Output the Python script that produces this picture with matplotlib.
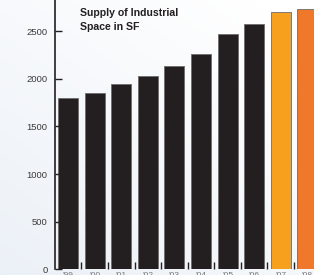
import matplotlib
matplotlib.use("Agg")
import matplotlib.pyplot as plt
import numpy as np

# data (sq ft, thousands)
years = ["'99", "'00", "'01", "'02", "'03", "'04", "'05", "'06", "'07", "'08"]
supply = [1800, 1850, 1940, 2030, 2135, 2260, 2470, 2575, 2700, 2730]
bar_colors = ["#231f20"] * 8 + ["#f6a01e", "#f0782a"]
yticks = [0, 500, 1000, 1500, 2000, 2500]

plt.rcParams['font.family'] = ['Liberation Sans', 'DejaVu Sans']

fig = plt.figure(figsize=(3.14, 2.75), dpi=100)

# soft gradient background
bg = fig.add_axes([0, 0, 1, 1], zorder=0)
gx, gy = np.meshgrid(np.linspace(0, 1, 200), np.linspace(0, 1, 200))
g = np.clip(0.6 * gy + 0.5 * gx, 0, 1)
c0 = np.array([0.925, 0.945, 0.97])
c1 = np.array([1.0, 1.0, 1.0])
img = c0[None, None, :] * (1 - g[..., None]) + c1[None, None, :] * g[..., None]
bg.imshow(img, origin='lower', aspect='auto', extent=[0, 1, 0, 1])
bg.axis('off')

ax = fig.add_axes([54.5 / 314, 5.7 / 275, 1 - 54.5 / 314, 269.3 / 275], zorder=1)
ax.patch.set_alpha(0)

x = np.arange(len(supply))
ax.bar(x, supply, width=0.75, color=bar_colors, edgecolor='#6f6b6b', linewidth=0.6)

ax.set_xlim(-0.51, 9.25)
ax.set_ylim(0, 2826)

for s in ['top', 'right', 'bottom']:
    ax.spines[s].set_visible(False)
ax.spines['left'].set_color('#231f20')
ax.spines['left'].set_linewidth(1.2)

ax.set_yticks(yticks)
ax.set_yticklabels([str(v) for v in yticks], fontsize=6.8, color='#3a3a3a')
ax.tick_params(axis='y', direction='in', length=5, width=1.0, color='#231f20', pad=5)
# small outward mark at zero
ax.set_yticks([0], minor=True)
ax.tick_params(axis='y', which='minor', direction='out', length=3, width=0.8, color='#3a3a3a')

# year labels sit mostly below the bottom edge, as in the source
ax.set_xticks(x)
ax.set_xticklabels(years, fontsize=6, color='#777777')
ax.set_xticks(x[:-1] + 0.5, minor=True)
ax.tick_params(axis='x', which='major', length=0, pad=2)
ax.tick_params(axis='x', which='minor', direction='in', length=5, width=1.0, color='#231f20')

ax.text((80 - 54.5) / (314 - 54.5), 1 - 8.5 / 269.3, "Supply of Industrial\nSpace in SF",
        transform=ax.transAxes, fontsize=7.6, fontweight='bold', color='#231f20',
        va='top', ha='left', linespacing=1.45)

plt.savefig('out.png', dpi=100)
